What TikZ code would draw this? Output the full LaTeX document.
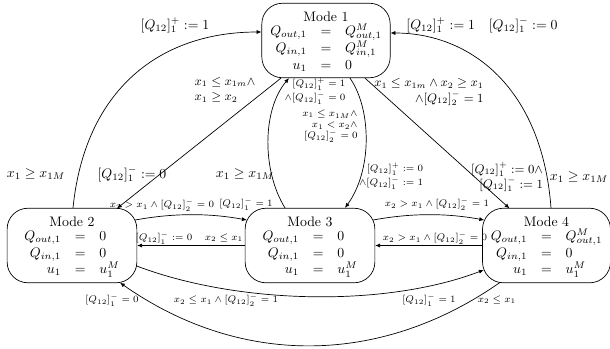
\documentclass[tikz,border=0pt]{standalone}
\usetikzlibrary{arrows.meta,calc}
\begin{document}
\begin{tikzpicture}[x=0.7246pt,y=-0.7246pt,
  mode/.style={draw,line width=0.5pt,rounded corners=15pt,minimum height=54pt,inner sep=1pt,align=center},
  arr/.style={-{Latex[length=3.5pt,width=3pt]},line width=0.5pt},
  lab/.style={inner sep=0pt,font=\normalsize},
  mlab/.style={inner sep=0pt,font=\small},
  slab/.style={inner sep=0pt,font=\scriptsize}]
\useasboundingbox (0,0) rectangle (610,348);

% modes
\node[mode,minimum width=93pt] (M1) at (326,40.5) {\rule{0pt}{10.5pt}Mode 1\\[0.5pt]
  $\begin{array}{rcl}Q_{out,1}&=&Q^M_{out,1}\\ Q_{in,1}&=&Q^M_{in,1}\\ u_1&=&0\end{array}$};
\node[mode,minimum width=94pt] (M2) at (72,245.5) {\rule{0pt}{10.5pt}Mode 2\\[0.5pt]
  $\begin{array}{rcl}Q_{out,1}&=&0\\ Q_{in,1}&=&0\\ u_1&=&u^M_1\end{array}$};
\node[mode,minimum width=94pt] (M3) at (310,245.5) {\rule{0pt}{10.5pt}Mode 3\\[0.5pt]
  $\begin{array}{rcl}Q_{out,1}&=&0\\ Q_{in,1}&=&0\\ u_1&=&u^M_1\end{array}$};
\node[mode,minimum width=90pt] (M4) at (546.5,245.5) {\rule{0pt}{10.5pt}Mode 4\\[0.5pt]
  $\begin{array}{rcl}Q_{out,1}&=&Q^M_{out,1}\\ Q_{in,1}&=&0\\ u_1&=&u^M_1\end{array}$};

% connectors
\draw[arr] ($(M2.north)+(1,0)$) .. controls +(12,-118) and +(-102,0) .. ($(M1.west)+(0,-8.5)$);
\draw[arr] ($(M1.south)+(-45,0)$) -- ($(M2.north)+(45,0.5)$);
\draw[arr] ($(M4.north)+(4.5,0)$) .. controls +(-9,-120) and +(80,0) .. ($(M1.east)+(0,-7.5)$);
\draw[arr] ($(M1.south)+(39,0)$) -- ($(M4.north)+(-37,0.5)$);
\draw[arr] ($(M3.north)+(-25,0)$) .. controls +(-23,-37) and +(-27,32) .. ($(M1.south)+(-37,0)$);
\draw[arr] ($(M1.south)+(24,0)$) .. controls +(22,32) and +(27,-37) .. ($(M3.north)+(35,0)$);
\draw[arr] ($(M2.east)+(-2,-25.5)$) .. controls +(38,-7) and +(-38,-7) .. ($(M3.west)+(2,-25.5)$);
\draw[arr] (M3.west) -- (M2.east);
\draw[arr] ($(M3.east)+(-2,-25.5)$) .. controls +(38,-7) and +(-38,-7) .. ($(M4.west)+(2,-25.5)$);
\draw[arr] (M4.west) -- (M3.east);
\draw[arr] ($(M2.east)+(-0.5,20.5)$) .. controls +(100,38) and +(-100,38) .. ($(M4.west)+(1.5,24.5)$);
\draw[arr] ($(M4.south)+(-46.5,-0.7)$) .. controls +(-120,84) and +(120,84) .. ($(M2.south)+(48,-0.4)$);

% labels
\node[lab] (L1) at (175,25) {$[Q_{12}]_1^+ := 1$};
\node[lab] (L2) at (36,174) {$x_1 \ge x_{1M}$};
\node[mlab,align=left] (L3) at (225,90) {$x_1 \le x_{1m}\wedge$\\ $x_1 \ge x_2$};
\node[lab] (L4) at (132,174) {$[Q_{12}]_1^- := 0$};
\node[lab] (L5) at (245,174) {$x_1 \ge x_{1M}$};
\node[lab] (L6) at (482,25) {$[Q_{12}]_1^+ := 1\quad [Q_{12}]_1^- := 0$};
\node[mlab,align=right] (L7) at (429,92) {$x_1 \le x_{1m}\wedge x_2 \ge x_1$\\ $\wedge[Q_{12}]_2^- = 1$};
\node[mlab,align=right] (L8) at (507,177) {$[Q_{12}]_1^+ := 0\wedge$\\ $[Q_{12}]_1^- := 1$};
\node[lab] (L9) at (579,177) {$x_1 \ge x_{1M}$};

\node[slab,align=right] (S1) at (315,91) {$[Q_{12}]_1^+ = 1$\\ $\wedge[Q_{12}]_1^- = 0$};
\node[slab,align=right] (S2) at (330,126) {$x_1 \le x_{1M}\wedge$\\ $x_1 < x_2\wedge$\\ $[Q_{12}]_2^- = 0$};
\node[slab,align=right] (S3) at (391,176) {$[Q_{12}]_1^+ := 0$\\ $\wedge[Q_{12}]_1^- := 1$};
\node[slab] (S4) at (162,205) {$x_2 > x_1 \wedge [Q_{12}]_2^- = 0$};
\node[slab] (S5) at (246,204) {$[Q_{12}]_1^- = 1$};
\node[slab] (S6) at (164,238) {$[Q_{12}]_1^- := 0$};
\node[slab] (S7) at (224,238) {$x_2 \le x_1$};
\node[slab] (S8) at (437,204) {$x_2 > x_1 \wedge [Q_{12}]_2^- = 1$};
\node[slab] (S9) at (435,238) {$x_2 > x_1 \wedge [Q_{12}]_2^- = 0$};
\node[slab] (S10) at (112,300) {$[Q_{12}]_1^- = 0$};
\node[slab] (S11) at (226,300) {$x_2 \le x_1 \wedge [Q_{12}]_2^- = 1$};
\node[slab] (S12) at (429,300) {$[Q_{12}]_1^- = 1$};
\node[slab] (S13) at (497,300) {$x_2 \le x_1$};
\end{tikzpicture}
\end{document}
